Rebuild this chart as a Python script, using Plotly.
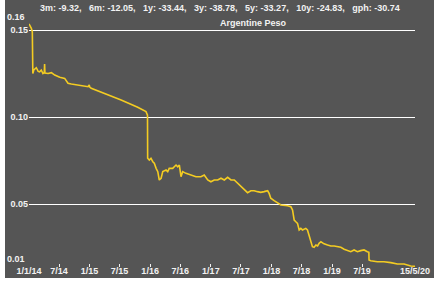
import plotly.graph_objects as go

dates = [
    "2014-01-01", "2014-01-05", "2014-01-15", "2014-01-21", "2014-01-24", "2014-01-30",
    "2014-02-14", "2014-02-25", "2014-03-06", "2014-03-16", "2014-03-26", "2014-04-03",
    "2014-04-05", "2014-04-07", "2014-04-26", "2014-05-16", "2014-06-05", "2014-07-05",
    "2014-08-04", "2014-08-24", "2014-09-13", "2014-10-20", "2014-11-25", "2014-12-23",
    "2014-12-30", "2015-01-02", "2015-01-11", "2015-04-01", "2015-07-10", "2015-10-18",
    "2015-12-07", "2015-12-16", "2015-12-17", "2015-12-27", "2016-01-06", "2016-01-17",
    "2016-01-26", "2016-02-06", "2016-02-16", "2016-02-25", "2016-03-07", "2016-03-17",
    "2016-04-06", "2016-04-16", "2016-04-25", "2016-05-16", "2016-06-05", "2016-06-15",
    "2016-06-25", "2016-07-05", "2016-07-15", "2016-08-04", "2016-09-03", "2016-10-03",
    "2016-11-02", "2016-11-22", "2016-12-13", "2017-01-01", "2017-01-21", "2017-02-11",
    "2017-03-03", "2017-03-23", "2017-04-12", "2017-05-02", "2017-05-22", "2017-06-11",
    "2017-07-01", "2017-07-21", "2017-08-10", "2017-08-30", "2017-09-19", "2017-10-09",
    "2017-10-29", "2017-11-18", "2017-12-09", "2017-12-18", "2017-12-28", "2018-01-17",
    "2018-02-07", "2018-02-27", "2018-04-08", "2018-04-28", "2018-05-08", "2018-05-18",
    "2018-05-28", "2018-06-07", "2018-06-17", "2018-06-27", "2018-07-07", "2018-07-27",
    "2018-08-06", "2018-08-16", "2018-08-26", "2018-09-05", "2018-09-15", "2018-09-26",
    "2018-10-06", "2018-10-15", "2018-10-26", "2018-11-05", "2018-11-14", "2018-12-05",
    "2018-12-25", "2019-01-14", "2019-02-03", "2019-02-23", "2019-03-15", "2019-04-04",
    "2019-04-24", "2019-05-14", "2019-06-03", "2019-06-23", "2019-07-13", "2019-08-02",
    "2019-08-11", "2019-08-12", "2019-08-22", "2019-10-01", "2019-11-10", "2019-12-21",
    "2020-01-30", "2020-03-10", "2020-04-19", "2020-05-15",
]
values = [
    0.1535, 0.1529, 0.1510, 0.1490, 0.1250, 0.1270,
    0.1283, 0.1262, 0.1260, 0.1270, 0.1250, 0.1255,
    0.1305, 0.1252, 0.1250, 0.1255, 0.1241, 0.1228,
    0.1222, 0.1194, 0.1190, 0.1185, 0.1180, 0.1174,
    0.1184, 0.1172, 0.1165, 0.1136, 0.1098, 0.1056,
    0.1031, 0.1011, 0.0763, 0.0753, 0.0763, 0.0743,
    0.0734, 0.0705, 0.0686, 0.0638, 0.0648, 0.0686,
    0.0695, 0.0686, 0.0705, 0.0705, 0.0724, 0.0714,
    0.0724, 0.0657, 0.0686, 0.0676, 0.0667, 0.0657,
    0.0657, 0.0667, 0.0638, 0.0628, 0.0638, 0.0638,
    0.0648, 0.0638, 0.0653, 0.0638, 0.0638, 0.0619,
    0.0600, 0.0581, 0.0565, 0.0576, 0.0576, 0.0571,
    0.0567, 0.0571, 0.0576, 0.0561, 0.0533, 0.0519,
    0.0508, 0.0494, 0.0490, 0.0484, 0.0466, 0.0408,
    0.0398, 0.0389, 0.0351, 0.0360, 0.0351, 0.0360,
    0.0351, 0.0322, 0.0283, 0.0255, 0.0251, 0.0264,
    0.0259, 0.0274, 0.0283, 0.0274, 0.0271, 0.0264,
    0.0259, 0.0259, 0.0255, 0.0251, 0.0240, 0.0232,
    0.0226, 0.0236, 0.0226, 0.0232, 0.0236, 0.0226,
    0.0222, 0.0178, 0.0174, 0.0168, 0.0168, 0.0163,
    0.0155, 0.0155, 0.0144, 0.0142,
]

x_tick_vals = ["2014-01-01", "2014-07-01", "2015-01-01", "2015-07-01", "2016-01-01",
               "2016-07-01", "2017-01-01", "2017-07-01", "2018-01-01", "2018-07-01",
               "2019-01-01", "2019-07-01", "2020-05-15"]
x_tick_text = ["1/1/14", "7/14", "1/15", "7/15", "1/16", "7/16", "1/17", "7/17",
               "1/18", "7/18", "1/19", "7/19", "15/5/20"]
y_tick_vals = [0.05, 0.10, 0.15]
y_max_label = "0.16"
y_min_label = "0.01"
stats_text = "3m: -9.32,   6m: -12.05,   1y: -33.44,   3y: -38.78,   5y: -33.27,   10y: -24.83,   gph: -30.74"
series_name = "Argentine Peso"

W, H = 445, 282
L, R, T, B = 29, 30, 13, 15
PW, PH = W - L - R, H - T - B
PX_PER_UNIT = 1740.0
Y_TOP = 0.15 + (30 - T) / PX_PER_UNIT
Y_BOT = 0.15 - ((H - B) - 30) / PX_PER_UNIT


def px(xp):
    return (xp - L) / PW


def py(yp):
    return (H - B - yp) / PH


BG = "#555555"
TXT = "#f2f2f2"
FONT = "Liberation Sans, Arial, sans-serif"

fig = go.Figure()
fig.add_trace(go.Scatter(x=dates, y=values, mode="lines",
                         line=dict(color="#f4cc22", width=1.6), hoverinfo="skip"))

fig.update_layout(
    width=W, height=H,
    margin=dict(l=L, r=R, t=T, b=B, pad=0, autoexpand=False),
    paper_bgcolor="white",
    plot_bgcolor=BG,
    showlegend=False,
    font=dict(family=FONT, size=9, color=TXT, weight="bold"),
    shapes=[dict(type="rect", xref="paper", yref="paper", layer="below",
                 x0=px(5), x1=px(434), y0=py(278), y1=py(0),
                 fillcolor=BG, line=dict(width=0))],
    xaxis=dict(range=["2014-01-01", "2020-05-15"], showgrid=False, zeroline=False,
               automargin=False,
               tickmode="array", tickvals=x_tick_vals, ticktext=x_tick_text,
               ticks="inside", ticklen=3, tickcolor=TXT, tickwidth=1,
               ticklabelstandoff=-3,
               tickfont=dict(family=FONT, size=9, color=TXT, weight="bold"),
               showline=False),
    yaxis=dict(range=[Y_BOT, Y_TOP], showgrid=True, gridcolor="white", gridwidth=1,
               automargin=False,
               zeroline=False, tickmode="array", tickvals=y_tick_vals, tickformat=".2f",
               ticks="", tickfont=dict(family=FONT, size=9, color=TXT, weight="bold"),
               showline=False),
    annotations=[
        dict(text=stats_text, xref="paper", yref="paper", x=px(220), y=py(8),
             showarrow=False, xanchor="center", yanchor="middle",
             font=dict(family=FONT, size=9, color=TXT, weight="bold")),
        dict(text=series_name, xref="paper", yref="paper", x=px(254), y=py(23),
             showarrow=False, xanchor="center", yanchor="middle",
             font=dict(family=FONT, size=9, color=TXT, weight="bold")),
        dict(text=y_max_label, xref="paper", yref="paper", x=px(27), y=py(17),
             showarrow=False, xanchor="right", yanchor="middle",
             font=dict(family=FONT, size=9, color=TXT, weight="bold")),
        dict(text=y_min_label, xref="paper", yref="paper", x=px(27), y=py(259),
             showarrow=False, xanchor="right", yanchor="middle",
             font=dict(family=FONT, size=9, color=TXT, weight="bold")),
    ],
)

fig.write_html("out.html")
